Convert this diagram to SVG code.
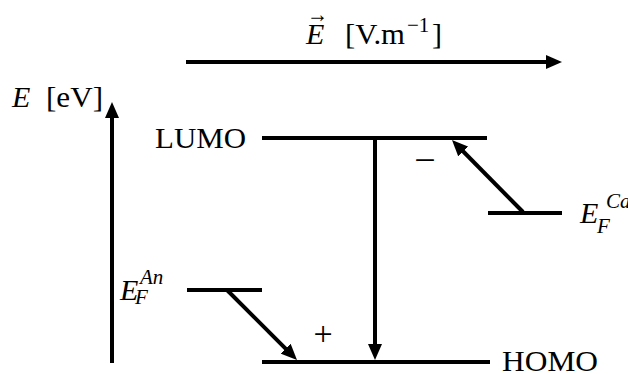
<svg xmlns="http://www.w3.org/2000/svg" width="628" height="374" viewBox="0 0 628 374">
<style>
.t{font-family:"Liberation Serif","DejaVu Serif",serif;font-size:30px;fill:#000}
.i{font-style:italic}
.s{font-size:21px}
.ln{stroke:#000;stroke-width:4;fill:none}
</style>
<defs>
<marker id="ah" markerUnits="userSpaceOnUse" markerWidth="18" markerHeight="14" refX="2" refY="7" orient="auto" viewBox="0 0 18 14">
<path d="M0,0 L16,7 L0,14 z" fill="#000"/>
</marker>
</defs>
<rect width="628" height="374" fill="#fff"/>
<g id="field-label">
<text class="t" x="306" y="44"><tspan class="i">E</tspan><tspan x="345" textLength="60" lengthAdjust="spacingAndGlyphs">[V.m</tspan><tspan class="s" x="407" dy="-12">−1</tspan><tspan x="432" dy="12">]</tspan></text>
<text class="t" x="307" y="22" textLength="21" lengthAdjust="spacingAndGlyphs" style="font-size:24px">→</text>
</g>
<g id="energy-label">
<text class="t" x="12" y="107"><tspan class="i">E</tspan><tspan x="46" textLength="57" lengthAdjust="spacingAndGlyphs">[eV]</tspan></text>
</g>
<g id="lumo">
<line class="ln" x1="262" y1="138" x2="487" y2="138"/>
<text class="t" x="155" y="148" textLength="91" lengthAdjust="spacingAndGlyphs">LUMO</text>
</g>
<g id="homo">
<line class="ln" x1="262" y1="362" x2="490" y2="362"/>
<text class="t" x="502" y="371" textLength="96" lengthAdjust="spacingAndGlyphs">HOMO</text>
</g>
<g id="ef-an">
<line class="ln" x1="187" y1="290" x2="262" y2="290"/>
<text class="t i" x="120" y="300">E<tspan class="s" x="140" y="284">An</tspan><tspan class="s" x="135" y="304">F</tspan></text>
</g>
<g id="ef-ca">
<line class="ln" x1="488" y1="213" x2="562" y2="213"/>
<text class="t i" x="580" y="223">E<tspan class="s" x="606" y="208">Ca</tspan><tspan class="s" x="597" y="233">F</tspan></text>
</g>
<g id="signs">
<text class="t" x="323" y="345" text-anchor="middle" style="font-size:34px">+</text>
<text class="t" x="425" y="173" text-anchor="middle" style="font-size:38px">−</text>
</g>
<g id="connectors">
<line class="ln" x1="186" y1="62" x2="548" y2="62" marker-end="url(#ah)"/>
<line class="ln" x1="112" y1="363" x2="112" y2="116" marker-end="url(#ah)"/>
<line class="ln" x1="375" y1="138" x2="375" y2="346" marker-end="url(#ah)"/>
<line class="ln" x1="227" y1="290" x2="287.1" y2="350.1" marker-end="url(#ah)"/>
<line class="ln" x1="523" y1="212" x2="461.8" y2="150" marker-end="url(#ah)"/>
</g>
</svg>
